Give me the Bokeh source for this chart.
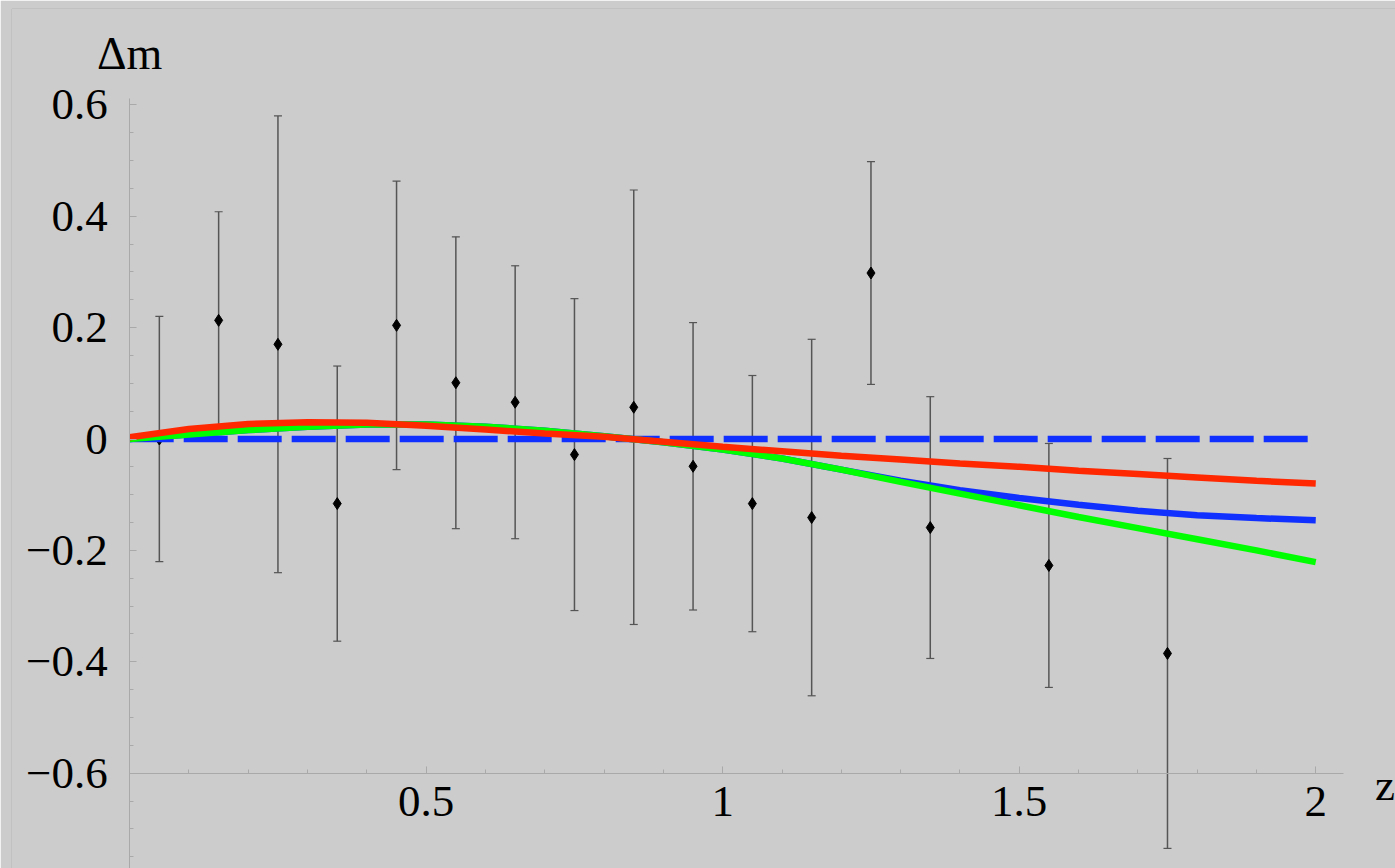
from bokeh.plotting import figure
from bokeh.models import (Range1d, LinearAxis, FixedTicker, CustomJSTickFormatter,
                          ColumnDataSource, Whisker, TeeHead, Label, Span)
from bokeh.embed import file_html
from bokeh.resources import INLINE

# Binned supernova magnitude residuals
z_bins = [0.05, 0.15, 0.25, 0.35, 0.45, 0.55, 0.65, 0.75, 0.85, 0.95,
          1.05, 1.15, 1.25, 1.35, 1.55, 1.75]
dm_obs = [0.000, 0.213, 0.170, -0.116, 0.204, 0.101, 0.066, -0.028, 0.057, -0.049,
          -0.116, -0.141, 0.298, -0.159, -0.227, -0.385]
dm_err = [0.220, 0.195, 0.410, 0.247, 0.259, 0.262, 0.245, 0.280, 0.390, 0.258,
          0.230, 0.320, 0.200, 0.235, 0.219, 0.350]

# Model curves relative to the reference model
z_curve = [0.0, 0.1, 0.2, 0.3, 0.4, 0.5, 0.6, 0.7, 0.8, 0.9, 1.0,
           1.1, 1.2, 1.3, 1.4, 1.5, 1.6, 1.7, 1.8, 1.9, 2.0]
dm_green = [0.000, 0.008, 0.016, 0.022, 0.026, 0.026, 0.022, 0.015, 0.005, -0.006, -0.019,
            -0.035, -0.055, -0.077, -0.098, -0.119, -0.140, -0.160, -0.180, -0.200, -0.221]
dm_blue = [0.000, 0.008, 0.016, 0.022, 0.026, 0.026, 0.022, 0.015, 0.005, -0.006, -0.019,
           -0.035, -0.055, -0.075, -0.092, -0.106, -0.118, -0.129, -0.137, -0.142, -0.146]
dm_red = [0.003, 0.018, 0.027, 0.030, 0.029, 0.024, 0.017, 0.010, 0.004, -0.005, -0.014,
          -0.022, -0.030, -0.037, -0.044, -0.050, -0.057, -0.063, -0.069, -0.075, -0.080]
z_ref = [0.0, 2.0]
dm_ref = [0.0, 0.0]

# Axis ticks
x_major = [0.5, 1.0, 1.5, 2.0]
x_minor = [0.1, 0.2, 0.3, 0.4, 0.6, 0.7, 0.8, 0.9, 1.1, 1.2, 1.3, 1.4, 1.6, 1.7, 1.8, 1.9]
y_major = [-0.6, -0.4, -0.2, 0.0, 0.2, 0.4, 0.6]
y_minor = [-0.75, -0.7, -0.65, -0.55, -0.5, -0.45, -0.35, -0.3, -0.25, -0.15, -0.1, -0.05,
           0.05, 0.1, 0.15, 0.25, 0.3, 0.35, 0.45, 0.5, 0.55]

BG = "#cccccc"
AXIS = "#a9a9a9"
FONT = "Liberation Serif"
FSIZE = "45px"

x_lo, x_hi = -0.1993, 2.1345
y_lo, y_hi = -0.7711, 0.7729

p = figure(width=1395, height=868, output_backend="svg", toolbar_location=None,
           x_range=Range1d(x_lo, x_hi), y_range=Range1d(y_lo, y_hi),
           x_axis_location=None, y_axis_location=None,
           min_border_left=11, min_border_top=8, min_border_right=0, min_border_bottom=0,
           background_fill_color=BG, border_fill_color=BG,
           outline_line_color=None)
p.grid.visible = False

# Panel frame: left and top edges
p.add_layout(Span(location=x_lo, dimension="height", line_color=AXIS, line_width=1))
p.add_layout(Span(location=y_hi, dimension="width", line_color=AXIS, line_width=1))

fmt = CustomJSTickFormatter(code="""
    if (tick === 0) return "0";
    return tick < 0 ? "\\u2212" + (-tick).toString() : tick.toString();
""")

xaxis = LinearAxis(fixed_location=-0.6, bounds=(0, 2.047),
                   ticker=FixedTicker(ticks=x_major, minor_ticks=x_minor),
                   formatter=fmt)
yaxis = LinearAxis(fixed_location=0, bounds=(y_lo, 0.611),
                   ticker=FixedTicker(ticks=y_major, minor_ticks=y_minor),
                   formatter=fmt)
for ax in (xaxis, yaxis):
    ax.axis_line_color = AXIS
    ax.axis_line_width = 1
    ax.major_tick_line_color = AXIS
    ax.minor_tick_line_color = AXIS
    ax.major_tick_in = 7
    ax.major_tick_out = 0
    ax.minor_tick_in = 4
    ax.minor_tick_out = 0
    ax.major_label_text_font = FONT
    ax.major_label_text_font_size = FSIZE
    ax.major_label_text_color = "black"
xaxis.major_label_standoff = 14
yaxis.major_label_standoff = 22
p.add_layout(xaxis, "below")
p.add_layout(yaxis, "left")

# Data points (drawn first so the curves pass over them)
src = ColumnDataSource(dict(
    z=z_bins, dm=dm_obs,
    lo=[v - e for v, e in zip(dm_obs, dm_err)],
    hi=[v + e for v, e in zip(dm_obs, dm_err)],
))
p.scatter("z", "dm", source=src, marker="diamond", size=12,
          fill_color="black", line_color="black")

# Reference model (dashed) and the three model curves
p.line(z_ref, dm_ref, line_color="#1030ff", line_width=6.5, line_dash="44 10")
p.line(z_curve, dm_blue, line_color="#1030ff", line_width=6.5)
p.line(z_curve, dm_green, line_color="#00ff00", line_width=6.5)
p.line(z_curve, dm_red, line_color="#ff2800", line_width=6.5)

# Error bars
p.add_layout(Whisker(source=src, base="z", lower="lo", upper="hi",
                     line_color="#555555", line_width=1.5,
                     lower_head=TeeHead(size=8, line_color="#555555", line_width=1.2),
                     upper_head=TeeHead(size=8, line_color="#555555", line_width=1.2)))

# Axis titles
p.add_layout(Label(x=0, y=0.692, text="Δm", text_align="center",
                   text_baseline="alphabetic", text_font=FONT, text_font_size="46px",
                   text_color="black"))
p.add_layout(Label(x=2.1, y=-0.622, text="z", text_align="left",
                   text_baseline="alphabetic", text_font=FONT, text_font_size=FSIZE,
                   text_color="black"))

open("out.html", "w").write(file_html(p, INLINE))
